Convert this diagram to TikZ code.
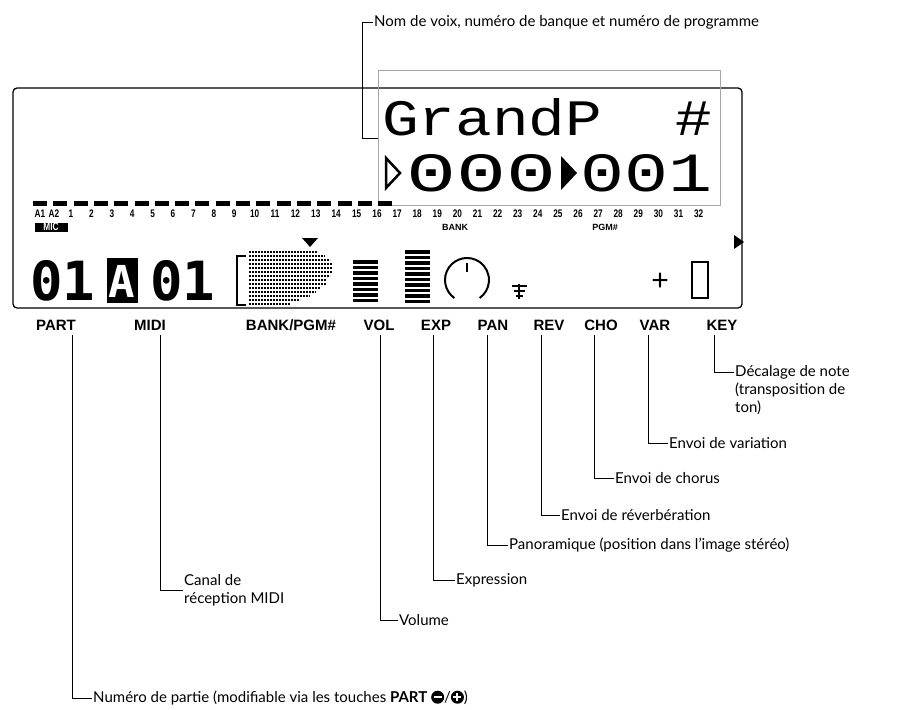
\documentclass[tikz,border=0pt]{standalone}
\usepackage{fontspec}
\setmainfont{Lato}
\setsansfont{Liberation Sans}
\setmonofont{DejaVu Sans Mono}
\newfontfamily\lcdfont{Liberation Mono}
\usetikzlibrary{positioning}
\tikzset{
  lead/.style={draw=black, line width=0.6pt},
  desc/.style={anchor=west, inner sep=1pt, font=\fontsize{15}{18}\selectfont, align=left},
  tag/.style={inner sep=0pt, font=\sffamily\bfseries\fontsize{15}{15}\selectfont},
  chan/.style={inner sep=0pt, font=\sffamily\bfseries\fontsize{11}{11}\selectfont},
  lcd/.style={inner sep=0pt, anchor=west, font=\lcdfont\fontsize{46}{46}\selectfont},
  partdash/.style={line width=5pt},
  bar/.style={line width=3.5pt}
}
\newcommand{\chno}[1]{\scalebox{0.75}[1]{#1}}
\begin{document}
\begin{tikzpicture}[x=1pt, y=-1pt]
\useasboundingbox (0,0) rectangle (915,709);

% display frame and name window
\draw[line width=1.3pt, rounded corners=4pt] (13,88) rectangle (742,308);
\draw[gray!70, line width=0.8pt] (378,70) rectangle (720,205);

% voice name and bank / program
\node[lcd] (name) at (382,117) {\resizebox{330pt}{37pt}{GrandP\ \ \#}};
\node[lcd] (bank) at (406,173) {\resizebox{150pt}{37pt}{000}};
\node[lcd] (pgm) at (580,173) {\resizebox{132pt}{37pt}{001}};
\draw[line width=2.5pt] (386,158) -- (386,188) -- (400,173) -- cycle;
\fill (561,156) -- (561,190) -- (577,173) -- cycle;

% part dashes and numbers
\foreach \i in {0,...,17}
  \draw[partdash] ({33+20.3*\i},203) -- ++(14,0);
\node[chan] (a1) at (40,214) {\chno{A1}};
\node[chan] (a2) at (54,214) {\chno{A2}};
\foreach \n in {1,...,32}
  \node[chan] (c\n) at ({71+20.4*(\n-1)-0.3*(\n>16)*(\n-16)},214) {\chno{\n}};
\node[chan, fill=black, text=white, minimum width=33pt, minimum height=9pt] (mic) at (51,227) {\chno{MIC}};
\node[chan, font=\sffamily\bfseries\fontsize{9}{9}\selectfont] (banktag) at (455,227) {BANK};
\node[chan, font=\sffamily\bfseries\fontsize{9}{9}\selectfont] (pgmtag) at (605,227) {PGM\#};
\fill (734,235) -- (734,249) -- (744,242) -- cycle;

% part / midi channel
\node[lcd, font=\ttfamily\bfseries\fontsize{54}{54}\selectfont] (part) at (30,281) {01};
\fill (107,258) rectangle (138,303);
\node[lcd, anchor=center, text=white, font=\ttfamily\bfseries\fontsize{44}{44}\selectfont] (ch) at (122,281) {A};
\node[lcd, font=\ttfamily\bfseries\fontsize{54}{54}\selectfont] (midi) at (150,281) {01};

% bank/pgm icon
\foreach \y/\a/\b in {252/249/318,256/249/325,260/249/330,264/249/332,268/249/332,272/249/332,276/249/330,280/249/326,284/249/326,288/249/320,292/249/316,296/249/310,300/249/300,304/249/290}
  \draw[line width=2pt, dash pattern=on 2pt off 1pt] (\a,\y) -- (\b,\y);
\draw[line width=1.5pt] (246,256) -- (237,256) -- (237,305) -- (246,305);
\fill (302,238) -- (318,238) -- (310,247) -- cycle;

% volume and expression bars
\foreach \y in {262,267.5,...,302}
  \draw[bar] (353,\y) -- (378,\y);
\foreach \y in {252,257.5,...,302}
  \draw[bar] (405,\y) -- (430,\y);

% pan knob
\draw[line width=2pt] (467,280) ++(125:22) arc[start angle=125, end angle=415, radius=22];
\draw[line width=2pt] (467,263) -- (467,272);

% reverb
\draw[line width=2pt] (512,286) -- (527,286);
\draw[line width=2pt] (514,291) -- (525,291);
\draw[line width=2pt] (516,296) -- (523,296);
\draw[line width=1.5pt] (519,284) -- (519,299);

% key shift
\node[inner sep=0pt, font=\sffamily\fontsize{30}{30}\selectfont] (plus) at (660,282) {+};
\draw[line width=2.2pt] (692,262) rectangle (708,298);

% parameter tags
\node[tag] (tpart) at (56,325) {PART};
\node[tag] (tmidi) at (150,325) {MIDI};
\node[tag] (tbank) at (291,325) {BANK/PGM\#};
\node[tag] (tvol) at (379,325) {VOL};
\node[tag] (texp) at (436,325) {EXP};
\node[tag] (tpan) at (493,325) {PAN};
\node[tag] (trev) at (549,325) {REV};
\node[tag] (tcho) at (601,325) {CHO};
\node[tag] (tvar) at (655,325) {VAR};
\node[tag] (tkey) at (722,325) {KEY};

% descriptions
\node[desc] (dname) at (373,22) {Nom de voix, numéro de banque et numéro de programme};
\node[desc] (dkey) at (734,390) {Décalage de note\\(transposition de\\ton)};
\node[desc] (dvar) at (668,443) {Envoi de variation};
\node[desc] (dcho) at (614,478) {Envoi de chorus};
\node[desc] (drev) at (560,515) {Envoi de réverbération};
\node[desc] (dpan) at (508,545) {Panoramique (position dans l’image stéréo)};
\node[desc] (dexp) at (455,580) {Expression};
\node[desc] (dmidi) at (183,590) {Canal de\\réception MIDI};
\node[desc] (dvol) at (398,620) {Volume};
\node[desc] (dpart) at (92,698) {Numéro de partie (modifiable via les touches \textbf{PART} \raisebox{-1pt}{\tikz[x=1pt,y=1pt]{\fill (0,0) circle (6.5); \fill[white] (-4,-1) rectangle (4,1);}}/\raisebox{-1pt}{\tikz[x=1pt,y=1pt]{\fill (0,0) circle (6.5); \fill[white] (-4,-1) rectangle (4,1); \fill[white] (-1,-4) rectangle (1,4);}})};

% leaders
\coordinate (nameend) at (378,138);
\draw[lead] (nameend) -- (362,138) |- (dname.west);
\draw[lead] (72,335) |- (dpart.west);
\draw[lead] (160,335) |- (dmidi.west);
\draw[lead] (380,335) |- (dvol.west);
\draw[lead] (433,335) |- (dexp.west);
\draw[lead] (487,335) |- (dpan.west);
\draw[lead] (541,335) |- (drev.west);
\draw[lead] (594,335) |- (dcho.west);
\draw[lead] (648,335) |- (dvar.west);
\draw[lead] (714,335) |- (dkey.north west |- 0,372);
\end{tikzpicture}
\end{document}
